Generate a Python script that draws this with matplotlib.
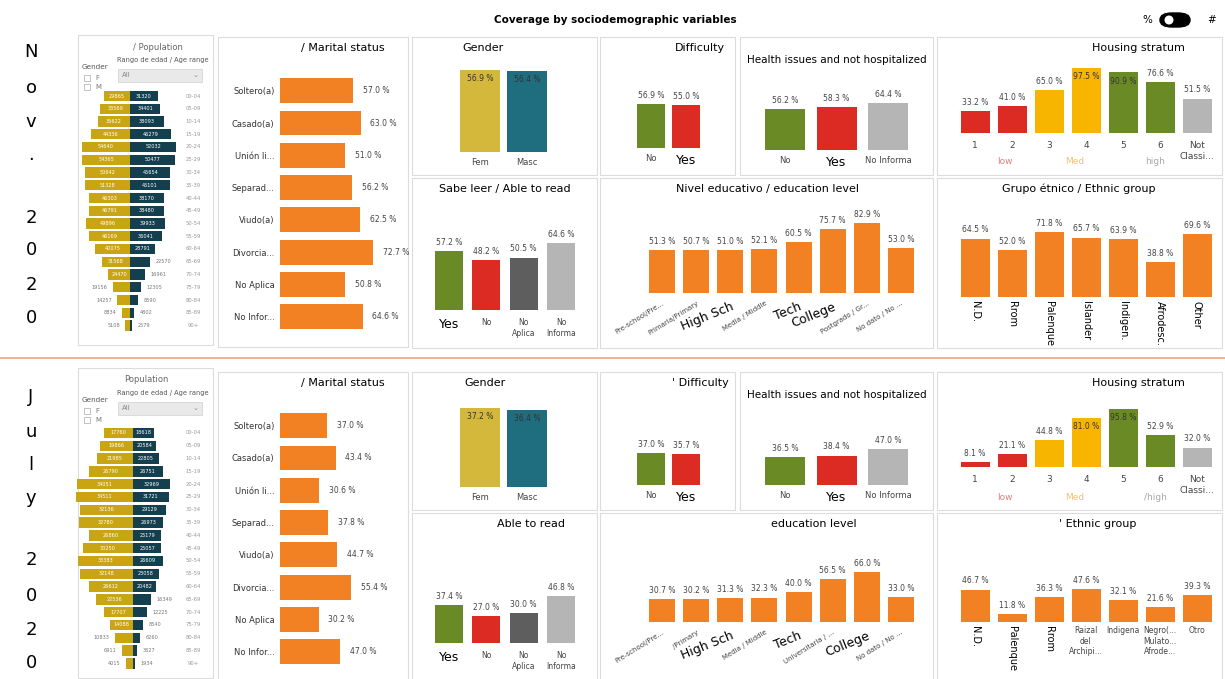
import matplotlib
matplotlib.use("Agg")
import matplotlib.pyplot as plt
from matplotlib.patches import Rectangle, FancyBboxPatch, Ellipse

W, H = 1225, 679
ORANGE = "#F28124"
GREEN = "#6A8A26"
RED = "#DC2B22"
LGRAY = "#B5B5B5"
DGRAY = "#5E5E5E"
YELLOW = "#F7B500"

# ---- data -------------------------------------------------------------
ages = ["00-04", "05-09", "10-14", "15-19", "20-24", "25-29", "30-34", "35-39",
        "40-44", "45-49", "50-54", "55-59", "60-64", "65-69", "70-74", "75-79",
        "80-84", "85-89", "90+"]
fem_nov = [29865, 33569, 36622, 44336, 54640, 54365, 50642, 51328, 46303, 46791,
           49896, 46169, 40075, 31568, 24470, 19156, 14257, 8834, 5108]
masc_nov = [31320, 34401, 38093, 46279, 52032, 50477, 45654, 45101, 38170, 38480,
            39933, 36041, 28791, 22570, 16961, 12305, 8590, 4802, 2579]
fem_jul = [17760, 19866, 21985, 26790, 34051, 34511, 32136, 32780, 26860, 30250,
           33383, 32148, 26612, 22536, 17707, 14088, 10833, 6911, 4015]
masc_jul = [18618, 20584, 22805, 26751, 32969, 31721, 29129, 26973, 25179, 25057,
            26609, 23058, 20482, 16349, 12225, 8540, 6260, 3627, 1934]

marital_cats = ["Soltero(a)", "Casado(a)", "Unión li...", "Separad...", "Viudo(a)",
                "Divorcia...", "No Aplica", "No Infor..."]
marital_nov = [57.0, 63.0, 51.0, 56.2, 62.5, 72.7, 50.8, 64.6]
marital_jul = [37.0, 43.4, 30.6, 37.8, 44.7, 55.4, 30.2, 47.0]

gender_cats = ["Fem", "Masc"]
gender_nov = [56.9, 56.4]
gender_jul = [37.2, 36.4]

diff_cats = ["No", "Yes"]
diff_nov = [56.9, 55.0]
diff_jul = [37.0, 35.7]

health_cats = ["No", "Yes", "No Informa"]
health_nov = [56.2, 58.3, 64.4]
health_jul = [36.5, 38.4, 47.0]

strata_cats = ["1", "2", "3", "4", "5", "6", "Not\nClassi..."]
strata_nov = [33.2, 41.0, 65.0, 97.5, 90.9, 76.6, 51.5]
strata_jul = [8.1, 21.1, 44.8, 81.0, 95.8, 52.9, 32.0]

read_cats = ["Yes", "No", "No\nAplica", "No\nInforma"]
read_nov = [57.2, 48.2, 50.5, 64.6]
read_jul = [37.4, 27.0, 30.0, 46.8]

edu_cats_nov = ["Pre-school/Pre...", "Primaria/Primary", "High Sch", "Media / Middle",
                "Tech", "College", "Postgrado / Gr...", "No dato / No ..."]
edu_cats_jul = ["Pre-school/Pre...", "/Primary", "High Sch", "Media / Middle",
                "Tech", "Universitaria / ...", "College", "No dato / No ..."]
edu_nov = [51.3, 50.7, 51.0, 52.1, 60.5, 75.7, 82.9, 53.0]
edu_jul = [30.7, 30.2, 31.3, 32.3, 40.0, 56.5, 66.0, 33.0]

eth_cats_nov = ["N.D.", "Rrom", "Palenque", "Islander", "Indigen.", "Afrodesc.", "Other"]
eth_cats_jul = ["N.D.", "Palenque", "Rrom", "Raizal\ndel\nArchipi...", "Indigena",
                "Negro(...\nMulato...\nAfrode...", "Otro"]
eth_nov = [64.5, 52.0, 71.8, 65.7, 63.9, 38.8, 69.6]
eth_jul = [46.7, 11.8, 36.3, 47.6, 32.1, 21.6, 39.3]

fig = plt.figure(figsize=(W / 100, H / 100), dpi=100)
fig.patch.set_facecolor("white")


def px_axes(x0, y0, x1, y1):
    ax = fig.add_axes([x0 / W, 1 - y1 / H, (x1 - x0) / W, (y1 - y0) / H])
    ax.patch.set_alpha(0)
    for s in ax.spines.values():
        s.set_visible(False)
    return ax


def ftext(x, y, s, **kw):
    kw.setdefault("ha", "center")
    kw.setdefault("va", "center")
    return fig.text(x / W, 1 - y / H, s, **kw)


def card(x0, y0, x1, y1):
    fig.patches.append(Rectangle((x0 / W, 1 - y1 / H), (x1 - x0) / W, (y1 - y0) / H,
                                 transform=fig.transFigure, facecolor="white",
                                 edgecolor="#DCDCDC", lw=0.8, zorder=-5))


def vbars(centers, base, top, cats, vals, colors, bw, inside=(), big=(),
          lab_size=5.5, rot=0, big_rot=0, pad=4):
    sp = centers[1] - centers[0]
    ax = px_axes(centers[0] - sp / 2, top, centers[-1] + sp / 2, base)
    n = len(vals)
    ax.bar(range(n), vals, width=bw / sp, color=colors)
    ax.set_xlim(-0.5, n - 0.5)
    ax.set_ylim(0, max(vals))
    ax.set_yticks([])
    ax.set_xticks(range(n), cats)
    ax.tick_params(axis="x", length=0, pad=pad, labelsize=lab_size, labelcolor="#444444")
    for i, lbl in enumerate(ax.get_xticklabels()):
        if rot:
            lbl.set_rotation(rot)
            lbl.set_ha("right")
            lbl.set_rotation_mode("anchor")
        if i in big:
            lbl.set_fontsize(9)
            lbl.set_color("black")
            if big_rot is not None:
                lbl.set_rotation(big_rot)
    for i, v in enumerate(vals):
        if i in inside:
            ax.annotate(f"{v:.1f} %", (i, v), xytext=(0, -3), textcoords="offset points",
                        ha="center", va="top", fontsize=5.5, color="#333333")
        else:
            ax.annotate(f"{v:.1f} %", (i, v), xytext=(0, 3), textcoords="offset points",
                        ha="center", va="bottom", fontsize=5.5, color="#444444",
                        annotation_clip=False)
    return ax


def pyramid(cx, top, f_px, f_max, m_px, m_max, fem, masc, step=12.75):
    n = len(ages)
    y0, y1 = top - step / 2, top + (n - 0.5) * step
    axf = px_axes(cx - f_px, y0, cx, y1)
    axm = px_axes(cx, y0, cx + m_px, y1)
    for ax, vals, lim, col, side in ((axf, fem, f_max, "#C9A514", -1),
                                     (axm, masc, m_max, "#133F4F", 1)):
        ax.barh(range(n), vals, height=0.8, color=col)
        ax.set_ylim(n - 0.5, -0.5)
        ax.set_xlim((lim, 0) if side < 0 else (0, lim))
        ax.set_xticks([])
        ax.set_yticks([])
        wpx = f_px if side < 0 else m_px
        for i, v in enumerate(vals):
            if v / lim * wpx > 20:
                ax.text(v / 2, i, str(v), ha="center", va="center", fontsize=3.6,
                        color="white")
            else:
                ax.annotate(str(v), (v, i), xytext=(side * 4, 0), textcoords="offset points",
                            ha="right" if side < 0 else "left", va="center",
                            fontsize=3.6, color="#777777", annotation_clip=False)
    for i, a in enumerate(ages):
        ftext(193, top + i * step, a, fontsize=3.8, color="#999999")


def hbars(top, vals):
    sp = 32.3
    ax = px_axes(280, top - sp / 2, 408, top + 7.5 * sp)
    n = len(vals)
    ax.barh(range(n), vals, height=0.77, color=ORANGE)
    ax.set_xlim(0, 100)
    ax.set_ylim(n - 0.5, -0.5)
    ax.set_xticks([])
    ax.set_yticks(range(n), marital_cats)
    ax.tick_params(axis="y", length=0, pad=4, labelsize=6, labelcolor="#333333")
    for i, v in enumerate(vals):
        ax.annotate(f"{v:.1f} %", (v, i), xytext=(7, 0), textcoords="offset points",
                    ha="left", va="center", fontsize=5.5, color="#444444")


def population_panel(dy, title_x, title):
    ftext(title_x, 47 + dy, title, fontsize=6, color="#666666")
    ftext(82, 67 + dy, "Gender", fontsize=5.2, color="#555555", ha="left")
    ftext(117, 60 + dy, "Rango de edad / Age range", fontsize=4.8, color="#555555", ha="left")
    fig.patches.append(Rectangle((118 / W, 1 - (82 + dy) / H), 84 / W, 13 / H,
                                 transform=fig.transFigure, facecolor="#E9E9E9",
                                 edgecolor="#D0D0D0", lw=0.5))
    ftext(122, 75 + dy, "All", fontsize=5, color="#888888", ha="left")
    ftext(196, 75 + dy, "\u2304", fontsize=5, color="#888888")
    for k, g in enumerate(["F", "M"]):
        yy = 78 + dy + k * 9
        fig.patches.append(Rectangle((84 / W, 1 - (yy + 3) / H), 6 / W, 6 / H,
                                     transform=fig.transFigure, facecolor="white",
                                     edgecolor="#AAAAAA", lw=0.5))
        ftext(95, yy, g, fontsize=5, color="#777777", ha="left")


# ---- header & separators -----------------------------------------------
ftext(615, 20, "Coverage by sociodemographic variables", fontsize=7.5, fontweight="bold")
ftext(1147, 20, "%", fontsize=7.5)
fig.patches.append(FancyBboxPatch((1160 / W, 1 - 27 / H), 30 / W, 14 / H,
                                  boxstyle="round,pad=0,rounding_size=0.01",
                                  transform=fig.transFigure, facecolor="black",
                                  edgecolor="black"))
fig.patches.append(Ellipse((1169 / W, 1 - 20 / H), 9 / W, 9 / H, transform=fig.transFigure,
                           facecolor="white", edgecolor="none"))
ftext(1212, 20, "#", fontsize=7.5)
fig.add_artist(plt.Line2D([0, 1], [1 - 358 / H, 1 - 358 / H], transform=fig.transFigure,
                          color="#E9A57A", lw=1.2))

for ch, y in zip("Nov.2020", [52, 88, 122, 155, 218, 250, 285, 318]):
    ftext(31, y, ch, fontsize=13)
for ch, y in zip("July2020", [397, 432, 465, 498, 560, 596, 630, 663]):
    ftext(31, y, ch, fontsize=13)

# ---- cards -------------------------------------------------------------
for dy, pop_box in ((0, (78, 35, 213, 345)), (335, (78, 368, 213, 678))):
    card(*pop_box)
    card(218, 37 + dy, 408, 347 + dy if dy == 0 else 680)
    card(412, 37 + dy, 597, 175 + dy)
    card(600, 37 + dy, 735, 175 + dy)
    card(740, 37 + dy, 933, 175 + dy)
    card(937, 37 + dy, 1222, 175 + dy)
    card(412, 178 + dy, 597, 348 + dy if dy == 0 else 680)
    card(600, 178 + dy, 933, 348 + dy if dy == 0 else 680)
    card(937, 178 + dy, 1222, 348 + dy if dy == 0 else 680)

# ---- population --------------------------------------------------------
population_panel(0, 158, "/ Population")
population_panel(333, 146, "Population")
pyramid(130, 96, 53, 60000, 53, 60000, fem_nov, masc_nov)
pyramid(133, 433, 60, 36300, 40, 35600, fem_jul, masc_jul, step=12.8)

# ---- marital status ----------------------------------------------------
ftext(343, 48, "/ Marital status", fontsize=8)
ftext(343, 383, "/ Marital status", fontsize=8)
hbars(90.7, marital_nov)
hbars(425.7, marital_jul)

# ---- gender ------------------------------------------------------------
ftext(483, 48, "Gender", fontsize=8)
ftext(485, 383, "Gender", fontsize=8)
vbars([480, 527], 152, 70, gender_cats, gender_nov, ["#D4B83C", "#1E6E80"], 40,
      inside=(0, 1), lab_size=6)
vbars([480, 527], 487, 408, gender_cats, gender_jul, ["#D4B83C", "#1E6E80"], 40,
      inside=(0, 1), lab_size=6)

# ---- difficulty --------------------------------------------------------
ftext(700, 48, "Difficulty", fontsize=8)
ftext(700, 383, "' Difficulty", fontsize=8)
vbars([651, 686], 148, 104, diff_cats, diff_nov, [GREEN, RED], 28, big=(1,), lab_size=6)
vbars([651, 686], 485, 453, diff_cats, diff_jul, [GREEN, RED], 28, big=(1,), lab_size=6)

# ---- health ------------------------------------------------------------
ftext(837, 60, "Health issues and not hospitalized", fontsize=7.5)
ftext(837, 395, "Health issues and not hospitalized", fontsize=7.5)
vbars([785, 836.5, 888], 150, 103, health_cats, health_nov, [GREEN, RED, LGRAY], 40,
      big=(1,), lab_size=6)
vbars([785, 836.5, 888], 485, 449, health_cats, health_jul, [GREEN, RED, LGRAY], 40,
      big=(1,), lab_size=6)

# ---- housing stratum ---------------------------------------------------
strata_colors = [RED, RED, YELLOW, YELLOW, GREEN, GREEN, LGRAY]
eth_centers = [975, 1012, 1049, 1086, 1123, 1160, 1197]
ftext(1138, 48, "Housing stratum", fontsize=8)
ftext(1138, 383, "Housing stratum", fontsize=8)
vbars(eth_centers, 133, 68, strata_cats, strata_nov, strata_colors, 29,
      inside=(3, 4), lab_size=6.5, pad=6)
vbars(eth_centers, 467, 409, strata_cats, strata_jul, strata_colors, 29,
      inside=(3, 4), lab_size=6.5, pad=6)
for dy, hi in ((0, "high"), (335, "/high")):
    ftext(1005, 162 + dy, "low", fontsize=6.5, color="#E07F86")
    ftext(1075, 162 + dy, "Med", fontsize=6.5, color="#F6C36A")
    ftext(1155, 162 + dy, hi, fontsize=6.5, color="#A8A8A8")

# ---- able to read ------------------------------------------------------
ftext(505, 189, "Sabe leer / Able to read", fontsize=8)
ftext(531, 524, "Able to read", fontsize=8)
read_colors = [GREEN, RED, DGRAY, LGRAY]
vbars([449, 486.5, 524, 561], 310, 243, read_cats, read_nov, read_colors, 28,
      big=(0,), lab_size=5.5, pad=6)
vbars([449, 486.5, 524, 561], 643, 596, read_cats, read_jul, read_colors, 28,
      big=(0,), lab_size=5.5, pad=6)

# ---- education ---------------------------------------------------------
edu_centers = [662, 696, 730, 764, 798, 833, 867, 901]
ftext(767, 189, "Nivel educativo / education level", fontsize=8)
ftext(814, 524, "education level", fontsize=8)
vbars(edu_centers, 293, 223, edu_cats_nov, edu_nov, ORANGE, 26, big=(2, 4, 5),
      lab_size=5, rot=32, big_rot=22, pad=5)
vbars(edu_centers, 622, 572, edu_cats_jul, edu_jul, ORANGE, 26, big=(2, 4, 6),
      lab_size=5, rot=32, big_rot=22, pad=5)

# ---- ethnic group ------------------------------------------------------
ftext(1079, 189, "Grupo étnico / Ethnic group", fontsize=8)
ftext(1098, 524, "' Ethnic group", fontsize=8)
ax = vbars(eth_centers, 297, 232, eth_cats_nov, eth_nov, ORANGE, 29, lab_size=7, pad=3)
for lbl in ax.get_xticklabels():
    lbl.set_rotation(-90)
    lbl.set_color("black")
ax = vbars(eth_centers, 622, 589, eth_cats_jul, eth_jul, ORANGE, 29, lab_size=5.5,
           big=(0, 1, 2), big_rot=None, pad=3)
for i, lbl in enumerate(ax.get_xticklabels()):
    if i < 3:
        lbl.set_rotation(-90)
        lbl.set_fontsize(7)

fig.savefig("out.png", dpi=100, facecolor="white")
